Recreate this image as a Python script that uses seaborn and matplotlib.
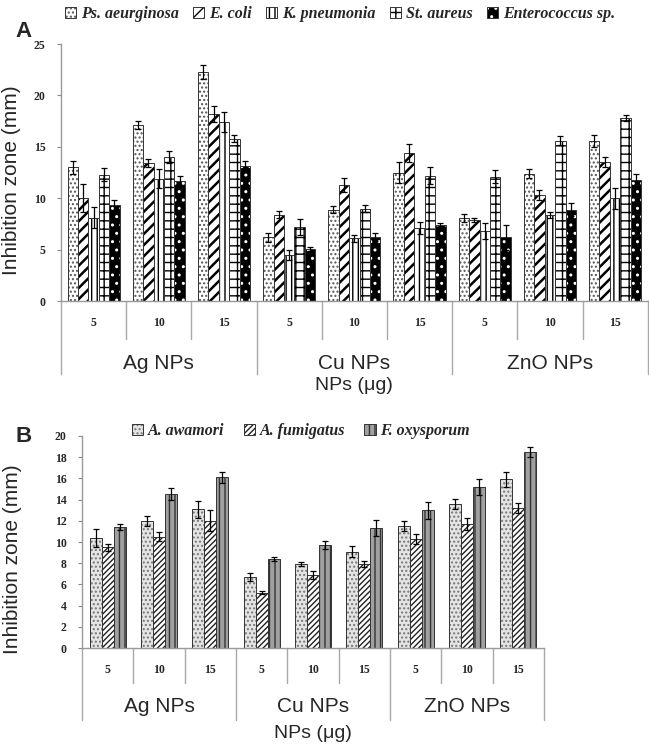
import pandas as pd
import matplotlib.pyplot as plt
import matplotlib.transforms as mtransforms
from matplotlib.container import BarContainer
import seaborn as sns

# x axis: nanoparticle type and dose (µg)
nps = ["Ag NPs", "Cu NPs", "ZnO NPs"]
doses = ["5", "10", "15"]

# panel A - bacteria (groups: Ag 5,10,15 / Cu 5,10,15 / ZnO 5,10,15)
bacteria = ["Ps. aeurginosa", "E. coli", "K. pneumonia", "St. aureus", "Enterococcus sp."]
ps_mean = [13.0, 17.1, 22.3, 6.2, 8.9, 12.5, 8.1, 12.4, 15.6]
ps_err = [0.65, 0.4, 0.7, 0.45, 0.35, 1.05, 0.4, 0.4, 0.6]
ec_mean = [10.0, 13.4, 18.2, 8.4, 11.3, 14.4, 7.9, 10.3, 13.5]
ec_err = [1.35, 0.4, 0.8, 0.35, 0.7, 0.85, 0.2, 0.5, 0.5]
kp_mean = [8.1, 11.9, 17.4, 4.5, 6.1, 7.1, 6.8, 8.4, 10.0]
kp_err = [1.0, 0.9, 1.0, 0.5, 0.35, 0.55, 0.8, 0.3, 1.0]
sa_mean = [12.3, 14.0, 15.8, 7.2, 9.0, 12.2, 12.1, 15.6, 17.8]
sa_err = [0.6, 0.55, 0.35, 0.8, 0.3, 0.8, 0.6, 0.45, 0.25]
ent_mean = [9.3, 11.7, 13.1, 5.1, 6.2, 7.4, 6.2, 8.9, 11.8]
ent_err = [0.55, 0.5, 0.55, 0.2, 0.4, 0.2, 1.2, 0.65, 0.6]

# panel B - fungi
fungi = ["A. awamori", "A. fumigatus", "F. oxysporum"]
aw_mean = [10.4, 12.0, 13.1, 6.7, 7.9, 9.1, 11.5, 13.6, 15.9]
aw_err = [0.85, 0.45, 0.8, 0.4, 0.2, 0.5, 0.45, 0.45, 0.7]
af_mean = [9.5, 10.5, 12.0, 5.2, 6.9, 7.9, 10.3, 11.7, 13.2]
af_err = [0.35, 0.4, 1.0, 0.15, 0.35, 0.3, 0.45, 0.6, 0.45]
fo_mean = [11.4, 14.5, 16.1, 8.4, 9.7, 11.3, 13.0, 15.2, 18.5]
fo_err = [0.3, 0.55, 0.55, 0.15, 0.4, 0.75, 0.8, 0.75, 0.5]

cats = [n + " " + d for n in nps for d in doses]


def long_table(names, means, errs):
    rows = []
    for name, m, e in zip(names, means, errs):
        for c, v, s in zip(cats, m, e):
            rows.append({"cat": c, "sp": name, "val": v, "err": s})
    return pd.DataFrame(rows)


dfa = long_table(bacteria, [ps_mean, ec_mean, kp_mean, sa_mean, ent_mean],
                 [ps_err, ec_err, kp_err, sa_err, ent_err])
dfb = long_table(fungi, [aw_mean, af_mean, fo_mean], [aw_err, af_err, fo_err])

sns.set_style("white")
plt.rcParams["hatch.linewidth"] = 1.0
serif = "Liberation Serif"
sans = "Liberation Sans"

fig = plt.figure(figsize=(6.49, 7.44), dpi=100)
axA = fig.add_axes([0.094, 0.5954, 0.904, 0.3454])
axB = fig.add_axes([0.1263, 0.129, 0.712, 0.285])

# (face, hatch, hatch colour, hatch width) per series
styleA = [("white", "....", "#555555", 1.0), ("white", "///", "black", 1.8),
          ("white", "|||", "black", 1.0), ("white", "++", "black", 1.0),
          ("black", "..", "white", 1.0)]
styleB = [("#e4e4e4", "....", "#777777", 1.0), ("white", "//////", "#222222", 1.0),
          ("#a0a0a0", "|||", "#333333", 1.0)]


def draw(ax, df, names, styles, width, ymax, ystep):
    sns.barplot(data=df, x="cat", y="val", hue="sp", order=cats, hue_order=names,
                errorbar=None, width=width, ax=ax, legend=False, saturation=1)
    bars = [c for c in ax.containers if isinstance(c, BarContainer)]
    for cont, name, (face, hatch, hc, hw) in zip(bars, names, styles):
        sub = df[df.sp == name].set_index("cat").loc[cats]
        xs = []
        for p in cont.patches:
            p.set_facecolor(face)
            p.set_edgecolor("#333333")
            p.set_linewidth(0.7)
            p.set_hatch(hatch)
            try:
                p.set_hatchcolor(hc)
            except AttributeError:
                p._hatch_color = plt.matplotlib.colors.to_rgba(hc)
            if hasattr(p, "set_hatch_linewidth"):
                p.set_hatch_linewidth(hw)
            xs.append(p.get_x() + p.get_width() / 2)
        ax.errorbar(xs, sub.val.values, yerr=sub.err.values, fmt="none",
                    ecolor="black", elinewidth=0.9, capsize=2.5, capthick=0.9, zorder=5)
    ax.set_ylim(0, ymax)
    ax.set_xlim(-0.5, len(cats) - 0.5)
    ax.set_yticks(range(0, ymax + 1, ystep))
    ax.set_yticklabels([str(v) for v in range(0, ymax + 1, ystep)],
                       fontfamily=serif, fontweight="bold", fontsize=8.5)
    ax.set_xticks(range(len(cats)))
    ax.set_xticklabels([], fontsize=1)
    ax.tick_params(axis="y", length=3, color="#888888", pad=8, left=True)
    ax.tick_params(axis="x", length=0)
    for s in ["top", "right"]:
        ax.spines[s].set_visible(False)
    for s in ["left", "bottom"]:
        ax.spines[s].set_color("#999999")
        ax.spines[s].set_linewidth(1.0)
    ax.set_xlabel("")
    ax.set_ylabel("")
    return bars


def multilevel(ax, y_dose, y_short, y_group, y_long, y_title):
    tr = mtransforms.blended_transform_factory(ax.transData, ax.transAxes)
    for i in range(len(cats) + 1):
        x = i - 0.5
        low = y_long if i % 3 == 0 else y_short
        ax.plot([x, x], [0, low], transform=tr, color="#a8a8a8", lw=1, clip_on=False)
    for i, c in enumerate(cats):
        ax.text(i, y_dose, doses[i % 3], transform=tr, ha="center", va="center",
                fontfamily=serif, fontweight="bold", fontsize=8.5)
    for g, name in enumerate(nps):
        ax.text(3 * g + 1, y_group, name, transform=tr, ha="center", va="center",
                fontfamily=sans, fontsize=15)
    ax.text(0.5, y_title, "NPs (\u03bcg)", transform=ax.transAxes, ha="center", va="center",
            fontfamily=sans, fontsize=14)


barsA = draw(axA, dfa, bacteria, styleA, 0.8, 25, 5)
barsB = draw(axB, dfb, fungi, styleB, 0.7, 20, 2)
multilevel(axA, -0.086, -0.148, -0.242, -0.285, -0.33)
multilevel(axB, -0.104, -0.165, -0.278, -0.34, -0.405)

axA.set_ylabel("Inhibition zone (mm)", fontfamily=sans, fontsize=15)
axA.yaxis.set_label_coords(-0.068, 0.47)
axB.set_ylabel("Inhibition zone (mm)", fontfamily=sans, fontsize=15)
axB.yaxis.set_label_coords(-0.13, 0.42)

fig.text(0.024, 0.958, "A", fontfamily=sans, fontweight="bold", fontsize=16, va="center")
fig.text(0.024, 0.413, "B", fontfamily=sans, fontweight="bold", fontsize=16, va="center")

legfont = {"family": serif, "weight": "bold", "style": "italic", "size": 11.5}
fig.legend(handles=[c.patches[0] for c in barsA], labels=bacteria,
           loc="center", bbox_to_anchor=(0.524, 0.981), ncol=5, frameon=False,
           prop=legfont, handlelength=0.7, handleheight=0.7, handletextpad=0.3,
           columnspacing=0.9)
fig.legend(handles=[c.patches[0] for c in barsB], labels=fungi,
           loc="center", bbox_to_anchor=(0.464, 0.421), ncol=3, frameon=False,
           prop=legfont, handlelength=0.7, handleheight=0.7, handletextpad=0.3,
           columnspacing=1.2)

fig.savefig("out.png", dpi=100)
